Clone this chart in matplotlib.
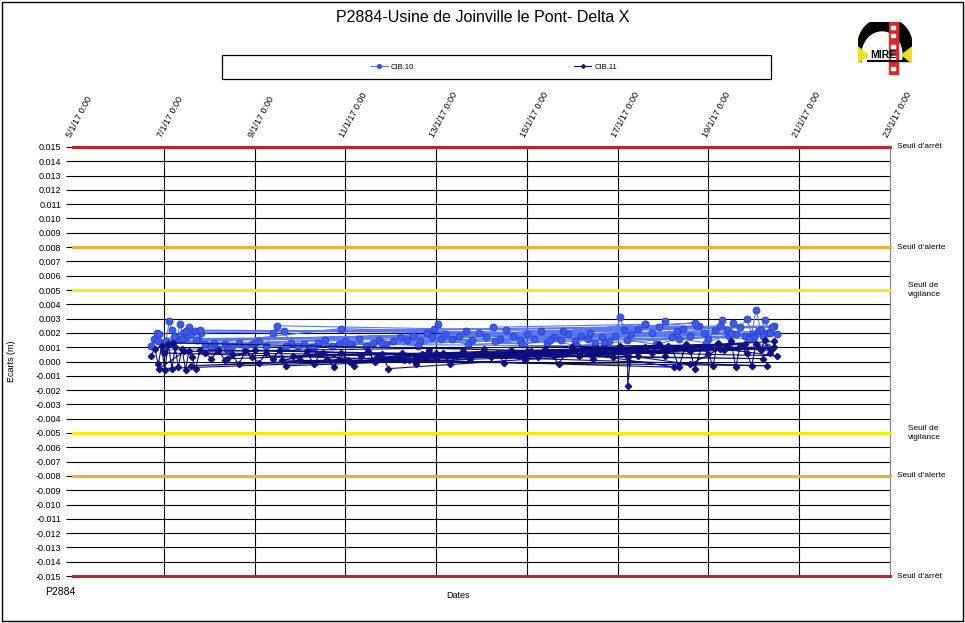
import matplotlib
matplotlib.use("Agg")
import matplotlib.pyplot as plt
import matplotlib.patches as mpatches
from matplotlib.ticker import FuncFormatter, MultipleLocator

plt.rcParams['font.family'] = ['Liberation Sans', 'DejaVu Sans']

# jour de janvier 2017 (fraction de jour) et écart en m, dans l'ordre des mesures
cib10_days = [6.72, 6.78, 6.85, 6.90, 6.95, 7.00, 20.10, 7.05, 7.12, 7.18,
              7.25, 7.30, 7.35, 7.42, 7.48, 7.55, 7.60, 7.68, 7.75, 7.82,
              18.80, 7.90, 8.05, 8.20, 8.35, 8.50, 8.65, 8.80, 8.95, 9.10,
              9.25, 9.40, 9.50, 19.60, 9.65, 9.80, 9.95, 10.10, 10.25, 10.40,
              10.55, 10.70, 10.85, 11.00, 11.15, 11.30, 11.45, 11.60, 11.75, 11.90,
              20.30, 12.05, 12.20, 12.35, 12.50, 12.65, 12.80, 12.95, 13.05, 13.20,
              13.35, 13.50, 13.65, 13.80, 13.95, 14.10, 17.60, 14.25, 14.40, 14.55,
              14.70, 14.85, 15.00, 15.15, 15.30, 15.45, 15.60, 15.75, 15.90, 16.05,
              16.20, 16.35, 16.50, 16.65, 16.80, 16.95, 17.05, 17.15, 17.30, 17.45,
              17.60, 17.75, 17.90, 18.05, 18.20, 18.30, 18.45, 18.60, 18.75, 18.90,
              19.00, 19.15, 19.30, 19.45, 19.55, 19.70, 19.85, 19.95, 20.05, 20.15,
              20.25, 20.35, 20.45, 6.88, 7.22, 7.50, 20.40, 7.70, 8.40, 9.00,
              19.40, 9.70, 10.30, 11.10, 18.70, 11.80, 12.60, 13.10, 13.70, 20.20,
              14.30, 14.90, 15.50, 16.10, 16.70, 19.80, 17.20, 17.85, 18.35, 18.95,
              19.50, 20.00, 20.50, 7.40, 7.80, 16.40, 12.90, 15.80, 19.25, 20.30,
              7.15, 8.10, 10.90, 19.90]
cib10_vals = [0.0011, 0.0016, 0.0020, 0.0019, 0.0013, 0.0008, 0.0021, 0.0014, 0.0028, 0.0022,
              0.0018, 0.0016, 0.0026, 0.0020, 0.0017, 0.0024, 0.0019, 0.0021, 0.0015, 0.0020,
              0.0025, 0.0012, 0.0010, 0.0009, 0.0012, 0.0011, 0.0013, 0.0010, 0.0012, 0.0014,
              0.0011, 0.0020, 0.0025, 0.0019, 0.0021, 0.0013, 0.0011, 0.0012, 0.0010, 0.0013,
              0.0015, 0.0011, 0.0012, 0.0014, 0.0012, 0.0016, 0.0011, 0.0013, 0.0015, 0.0012,
              0.0020, 0.0014, 0.0017, 0.0015, 0.0018, 0.0014, 0.0020, 0.0023, 0.0026, 0.0019,
              0.0016, 0.0018, 0.0021, 0.0015, 0.0020, 0.0017, 0.0026, 0.0024, 0.0016, 0.0022,
              0.0018, 0.0015, 0.0019, 0.0016, 0.0021, 0.0013, 0.0017, 0.0015, 0.0019, 0.0014,
              0.0018, 0.0016, 0.0013, 0.0017, 0.0014, 0.0018, 0.0031, 0.0022, 0.0019, 0.0023,
              0.0026, 0.0020, 0.0024, 0.0028, 0.0017, 0.0021, 0.0023, 0.0018, 0.0025, 0.0020,
              0.0016, 0.0022, 0.0029, 0.0018, 0.0027, 0.0024, 0.0030, 0.0019, 0.0036, 0.0022,
              0.0029, 0.0020, 0.0025, 0.0014, 0.0017, 0.0021, 0.0024, 0.0015, 0.0009, 0.0013,
              0.0022, 0.0011, 0.0010, 0.0012, 0.0027, 0.0013, 0.0011, 0.0016, 0.0012, 0.0018,
              0.0014, 0.0012, 0.0015, 0.0011, 0.0013, 0.0018, 0.0015, 0.0012, 0.0016, 0.0013,
              0.0020, 0.0017, 0.0019, 0.0016, 0.0022, 0.0020, 0.0017, 0.0021, 0.0025, 0.0010,
              0.0013, 0.0013, 0.0023, 0.0016]

cib11_days = [6.72, 6.80, 6.88, 6.95, 7.02, 7.10, 7.18, 7.25, 7.32, 7.40,
              7.48, 7.55, 7.62, 7.70, 7.80, 20.20, 7.90, 8.05, 8.20, 8.35,
              8.50, 8.65, 8.80, 8.95, 9.10, 9.25, 9.40, 9.55, 9.70, 20.40,
              9.85, 10.00, 10.15, 10.30, 10.45, 10.60, 10.75, 10.90, 11.05, 11.20,
              11.35, 11.50, 11.65, 11.80, 11.95, 19.00, 12.10, 12.25, 12.40, 12.55,
              12.70, 12.85, 13.00, 13.15, 13.30, 13.45, 13.60, 13.75, 13.90, 14.05,
              14.20, 14.35, 14.50, 14.65, 14.80, 14.95, 15.10, 15.25, 15.40, 15.55,
              15.70, 15.85, 16.00, 16.15, 16.30, 16.45, 16.60, 16.75, 16.90, 17.05,
              17.15, 17.22, 17.22, 17.30, 17.45, 17.60, 17.75, 17.90, 18.05, 18.20,
              18.35, 18.50, 18.60, 18.70, 18.85, 19.00, 19.10, 19.20, 19.35, 19.50,
              19.60, 19.70, 19.85, 19.95, 20.05, 20.15, 20.25, 20.35, 20.45, 6.90,
              7.45, 19.80, 8.40, 9.00, 20.30, 9.60, 10.50, 11.10, 18.10, 11.70,
              12.30, 13.00, 13.70, 20.45, 14.40, 15.00, 15.60, 16.20, 16.80, 18.60,
              19.25, 20.50, 7.20, 7.00, 18.25, 16.40, 20.10, 7.60, 12.80, 19.40]
cib11_vals = [0.0004, 0.0009, -0.0002, 0.0011, -0.0006, 0.0012, -0.0005, 0.0010, -0.0004, 0.0009,
              -0.0006, 0.0007, 0.0003, -0.0005, 0.0008, 0.0002, 0.0006, 0.0002, 0.0008, 0.0001,
              0.0005, -0.0002, 0.0007, 0.0003, -0.0001, 0.0006, 0.0002, 0.0008, -0.0003, 0.0009,
              0.0004, 0.0001, 0.0007, -0.0002, 0.0005, 0.0002, -0.0004, 0.0006, 0.0001, -0.0003,
              0.0004, 0.0007, 0.0000, 0.0005, -0.0005, 0.0010, 0.0003, 0.0006, 0.0001, -0.0002,
              0.0005, 0.0008, 0.0002, 0.0006, -0.0002, 0.0004, 0.0007, 0.0002, 0.0005, 0.0009,
              0.0003, 0.0006, -0.0001, 0.0008, 0.0004, 0.0001, 0.0007, 0.0003, 0.0009, 0.0005,
              -0.0002, 0.0006, 0.0010, 0.0004, 0.0007, 0.0002, 0.0008, 0.0005, 0.0003, 0.0011,
              0.0007, 0.0003, -0.0017, 0.0008, 0.0004, 0.0010, 0.0006, 0.0012, 0.0004, 0.0009,
              -0.0004, 0.0012, 0.0007, -0.0005, 0.0010, 0.0005, -0.0003, 0.0013, 0.0008, 0.0014,
              -0.0004, 0.0011, 0.0006, -0.0003, 0.0012, 0.0008, 0.0015, 0.0006, 0.0010, -0.0005,
              0.0007, 0.0012, 0.0002, 0.0008, -0.0003, 0.0001, 0.0006, 0.0000, 0.0011, 0.0003,
              0.0001, 0.0006, 0.0003, 0.0014, 0.0005, 0.0007, 0.0004, 0.0008, 0.0006, -0.0002,
              0.0009, 0.0004, 0.0013, 0.0006, -0.0004, 0.0005, 0.0010, -0.0003, 0.0004, 0.0011]

date_ticks = [5, 7, 9, 11, 13, 15, 17, 19, 21, 23]
seuil_vals = [0.015, 0.008, 0.005, -0.005, -0.008, -0.015]
seuil_cols = ['#c0232c', '#eab030', '#f4ee10', '#f4ee10', '#eab030', '#c0232c']
seuil_labs = ["Seuil d'arrêt", "Seuil d'alerte", "Seuil de\nvigilance",
              "Seuil de\nvigilance", "Seuil d'alerte", "Seuil d'arrêt"]

fig = plt.figure(figsize=(9.65, 6.23), dpi=100)
ax = fig.add_axes([73 / 965, 47 / 623, 817 / 965, 429 / 623])

# grille
ax.set_xlim(5, 23)
ax.set_ylim(-0.015, 0.015)
ax.yaxis.set_major_locator(MultipleLocator(0.001))
ax.set_xticks(date_ticks)
ax.grid(True, color='black', linewidth=0.8)
ax.set_axisbelow(True)
xgl = ax.xaxis.get_gridlines()
xgl[0].set_visible(False)   # pas de trait vertical au bord gauche
xgl[-1].set_visible(False)

# lignes de seuil
for val, col, lab in zip(seuil_vals, seuil_cols, seuil_labs):
    ax.axhline(val, color=col, linewidth=2.2, zorder=3, clip_on=False)
    xt = 1.022 if 'vigilance' in lab else 1.009
    ax.text(xt, val, lab, transform=ax.get_yaxis_transform(), fontsize=6,
            va='center', ha='left', linespacing=1.5)

ax.plot(cib10_days, cib10_vals, color='#5a78f0', linewidth=0.8, marker='o', markersize=5,
        markerfacecolor='#3a5af0', markeredgecolor='#2a40c0', markeredgewidth=0.6,
        label='CIB.10', zorder=4)
ax.plot(cib11_days, cib11_vals, color='#0c0c7a', linewidth=0.8, marker='D', markersize=3.2,
        markerfacecolor='#101080', markeredgecolor='#101080', label='CIB.11', zorder=5)

ax.yaxis.set_major_formatter(FuncFormatter(lambda v, p: f"{v:.3f}".replace('-0.000', '0.000')))
ax.tick_params(axis='y', labelsize=6.5, length=5, direction='out', width=0.8)
ax.xaxis.tick_top()
ax.xaxis.set_major_formatter(FuncFormatter(lambda v, p: f"{int(round(v))}/1/17 0:00"))
ax.tick_params(axis='x', labelsize=6.5, length=0, pad=6)
for lab in ax.get_xticklabels():
    lab.set_rotation(62)
    lab.set_ha('left')
    lab.set_va('bottom')
    lab.set_rotation_mode('anchor')

for side in ['top', 'bottom', 'left']:
    ax.spines[side].set_visible(False)
ax.spines['right'].set_color('#808080')

ax.set_ylabel('Ecarts (m)', fontsize=6.5, labelpad=14)
fig.text(458 / 965, 1 - 595 / 623, 'Dates', fontsize=6.5, ha='center', va='center')
fig.text(60 / 965, 1 - 592 / 623, 'P2884', fontsize=7.5, ha='center', va='center')
fig.text(483 / 965, 1 - 18 / 623, 'P2884-Usine de Joinville le Pont- Delta X', fontsize=11.5,
         ha='center', va='center')

# légende (cadre dessiné à part)
fig.patches.append(mpatches.Rectangle((222 / 965, 1 - 79 / 623), 549 / 965, 24 / 623,
                                      transform=fig.transFigure, fill=False,
                                      edgecolor='black', linewidth=0.9))
leg = fig.legend(loc='center', bbox_to_anchor=(494 / 965, 1 - 67 / 623), ncol=2, fontsize=5.5,
                 frameon=False, columnspacing=21, handlelength=2.2, handletextpad=0.4,
                 markerscale=0.6)

# cadre extérieur
fig.patches.append(mpatches.Rectangle((0.002, 0.003), 0.996, 0.994, transform=fig.transFigure,
                                      fill=False, edgecolor='black', linewidth=1))

# logo MIRE
lax = fig.add_axes([858 / 965, 1 - 75 / 623, 54 / 965, 53 / 623])
lax.set_xlim(0, 54)
lax.set_ylim(0, 53)
lax.axis('off')
lax.add_patch(mpatches.Wedge((27, 30), 27, 0, 180, color='black'))
lax.add_patch(mpatches.Rectangle((0, 14), 54, 17, color='black'))
lax.add_patch(mpatches.Ellipse((24, 20), 40, 46, color='white'))
lax.add_patch(mpatches.Rectangle((31, 0), 9, 53, color='#d8282c'))
for yb in [5, 16, 27, 38, 46]:
    lax.add_patch(mpatches.Rectangle((33, yb), 4, 3, color='white'))
lax.add_patch(mpatches.Polygon([(0, 28), (0, 12), (10, 20)], color='#f0e020'))
lax.add_patch(mpatches.Polygon([(54, 28), (54, 12), (44, 20)], color='#f0e020'))
lax.text(25, 20, 'MIRE', fontsize=7.5, fontweight='bold', ha='center', va='center',
         color='black')
lax.plot([10, 44], [14, 14], color='black', linewidth=1.5)

fig.savefig('out.png', dpi=100)
